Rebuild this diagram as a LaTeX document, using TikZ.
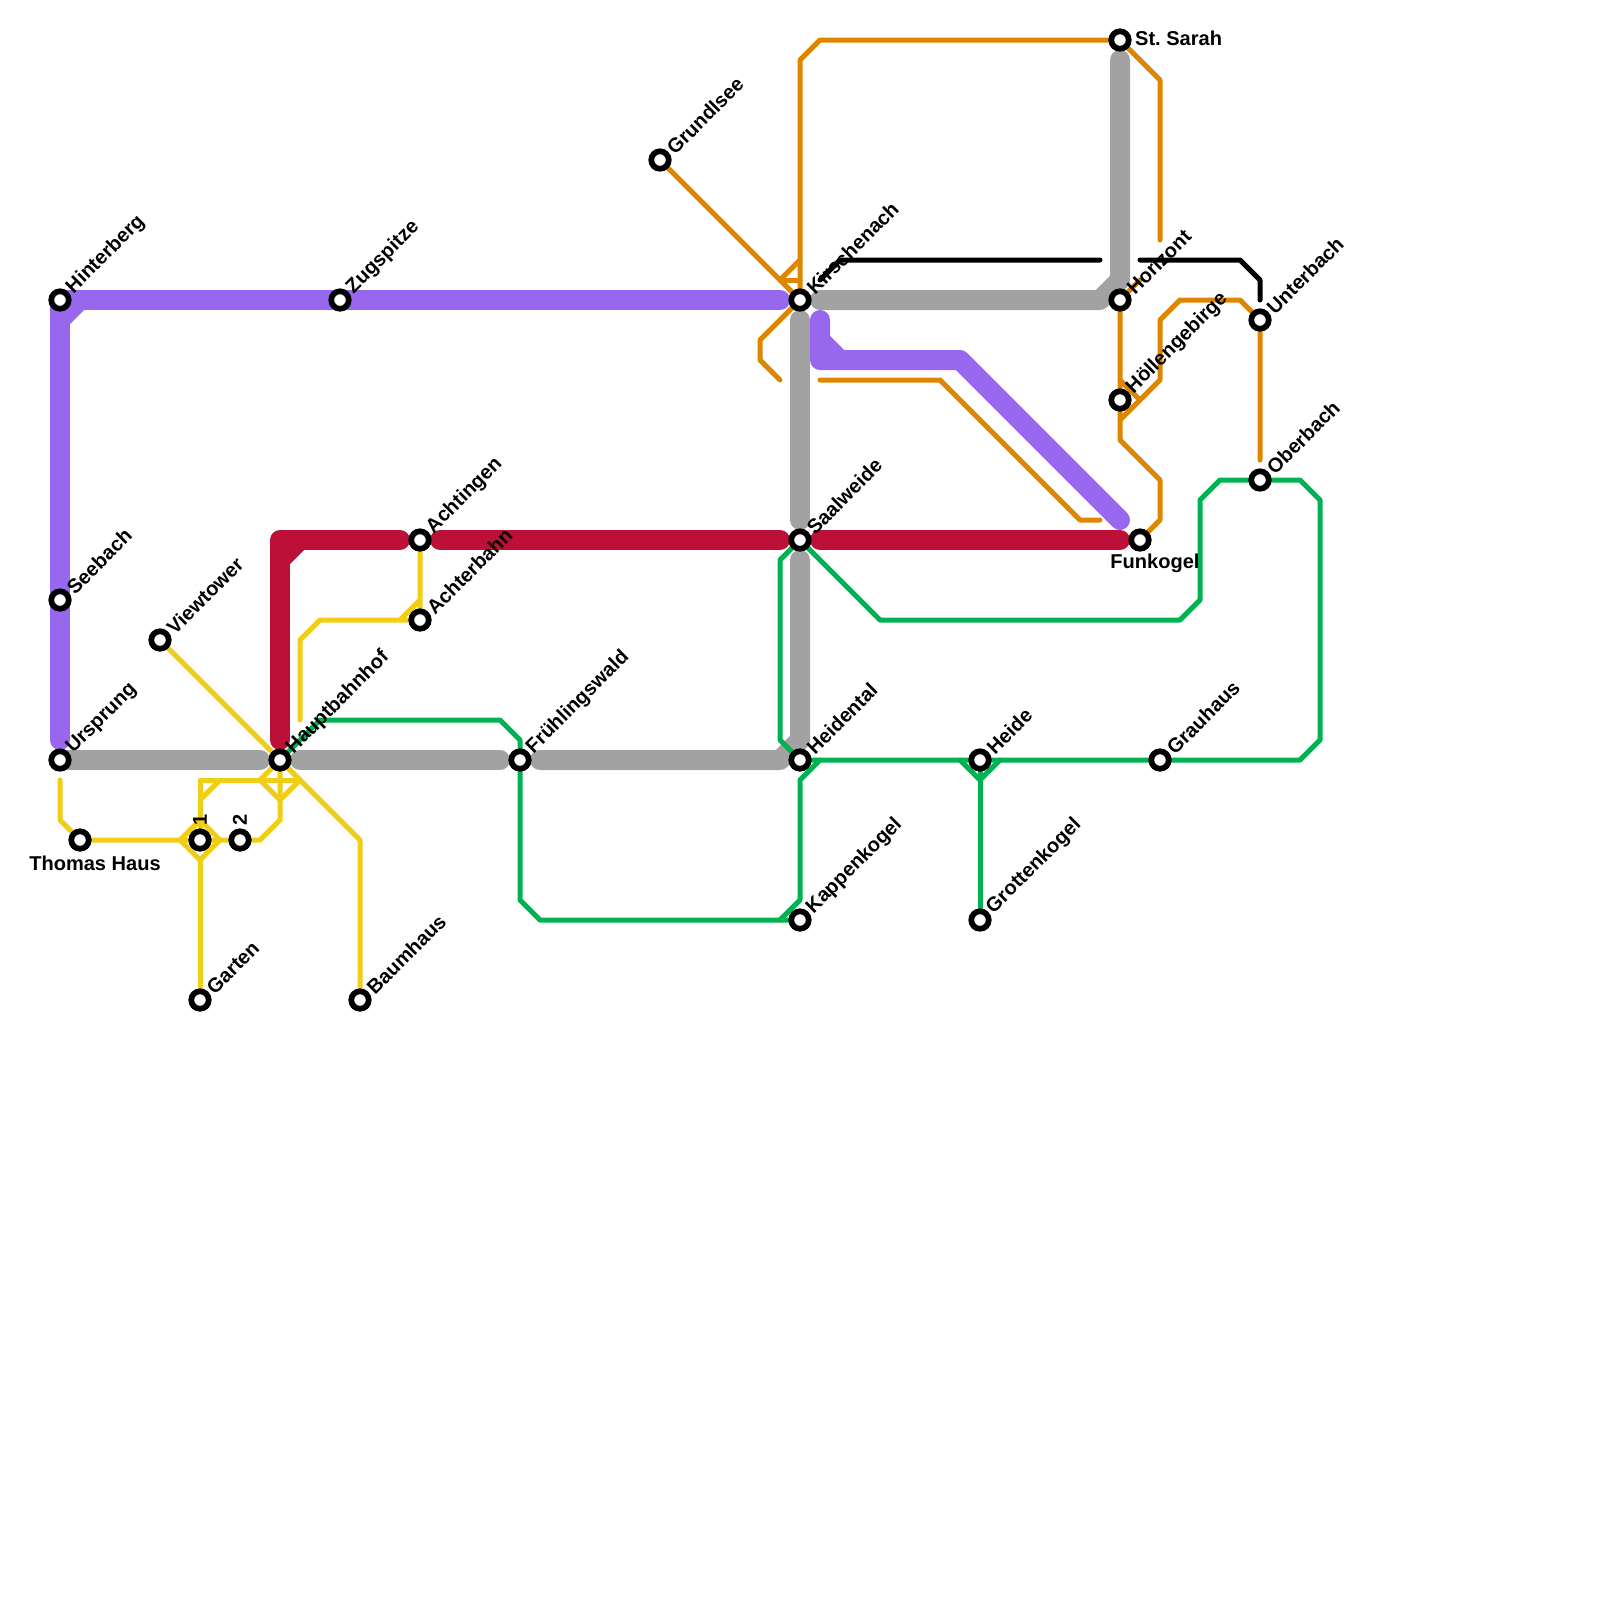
\documentclass[tikz,border=0pt]{standalone}
\usepackage{fontspec}
\setmainfont{Liberation Sans}
\usetikzlibrary{positioning}
\definecolor{linePurple}{HTML}{9768EE}
\definecolor{lineCrimson}{HTML}{BD1038}
\definecolor{lineGray}{HTML}{A2A2A2}
\definecolor{lineOrange}{HTML}{DF8600}
\definecolor{lineGreen}{HTML}{00B251}
\definecolor{lineYellow}{HTML}{F0CE15}
\pgfdeclarelayer{lines}
\pgfsetlayers{lines,main}
\begin{document}
\begin{tikzpicture}[
  x=0.2cm, y=-0.2cm,
  font=\fontsize{5.7}{6.5}\selectfont\bfseries,
  station/.style={circle, draw=black, fill=white, line width=0.57mm, minimum size=1.75mm, inner sep=0pt, outer sep=0pt},
  lblne/.style={xshift=0.95mm, yshift=0.9mm, rotate=45, anchor=west, inner sep=0pt},
  lblup/.style={yshift=1.4mm, rotate=90, anchor=west, inner sep=0pt},
  lbleast/.style={xshift=1.45mm, yshift=0.2mm, anchor=west, inner sep=0pt},
  lblbelow/.style={yshift=-2.3mm, inner sep=0pt},
  thick line/.style={line width=2mm, line cap=round, line join=round},
  thin line/.style={line width=0.5mm, line cap=round, line join=round}
]
\useasboundingbox (0,0) rectangle (80,80);

% stations
\node[station] (hinterberg) at (3,15) {};
\node[station] (seebach) at (3,30) {};
\node[station] (ursprung) at (3,38) {};
\node[station] (thomashaus) at (4,42) {};
\node[station] (viewtower) at (8,32) {};
\node[station] (one) at (10,42) {};
\node[station] (two) at (12,42) {};
\node[station] (garten) at (10,50) {};
\node[station] (hauptbahnhof) at (14,38) {};
\node[station] (baumhaus) at (18,50) {};
\node[station] (zugspitze) at (17,15) {};
\node[station] (achtingen) at (21,27) {};
\node[station] (achterbahn) at (21,31) {};
\node[station] (fruehlingswald) at (26,38) {};
\node[station] (grundlsee) at (33,8) {};
\node[station] (kirschenach) at (40,15) {};
\node[station] (saalweide) at (40,27) {};
\node[station] (heidental) at (40,38) {};
\node[station] (kappenkogel) at (40,46) {};
\node[station] (heide) at (49,38) {};
\node[station] (grottenkogel) at (49,46) {};
\node[station] (stsarah) at (56,2) {};
\node[station] (horizont) at (56,15) {};
\node[station] (hoellengebirge) at (56,20) {};
\node[station] (funkogel) at (57,27) {};
\node[station] (grauhaus) at (58,38) {};
\node[station] (unterbach) at (63,16) {};
\node[station] (oberbach) at (63,24) {};

% labels
\node[lblne] (hinterberglbl) at (hinterberg) {Hinterberg};
\node[lblne] (seebachlbl) at (seebach) {Seebach};
\node[lblne] (ursprunglbl) at (ursprung) {Ursprung};
\node[lblbelow] (thomashauslbl) at (thomashaus) [xshift=1.5mm] {Thomas Haus};
\node[lblne] (viewtowerlbl) at (viewtower) {Viewtower};
\node[lblup] (onelbl) at (one) {1};
\node[lblup] (twolbl) at (two) {2};
\node[lblne] (gartenlbl) at (garten) {Garten};
\node[lblne] (hauptbahnhoflbl) at (hauptbahnhof) {Hauptbahnhof};
\node[lblne] (baumhauslbl) at (baumhaus) {Baumhaus};
\node[lblne] (zugspitzelbl) at (zugspitze) {Zugspitze};
\node[lblne] (achtingenlbl) at (achtingen) {Achtingen};
\node[lblne] (achterbahnlbl) at (achterbahn) {Achterbahn};
\node[lblne] (fruehlingswaldlbl) at (fruehlingswald) {Frühlingswald};
\node[lblne] (grundlseelbl) at (grundlsee) {Grundlsee};
\node[lblne] (kirschenachlbl) at (kirschenach) {Kirschenach};
\node[lblne] (saalweidelbl) at (saalweide) {Saalweide};
\node[lblne] (heidentallbl) at (heidental) {Heidental};
\node[lblne] (kappenkogellbl) at (kappenkogel) {Kappenkogel};
\node[lblne] (heidelbl) at (heide) {Heide};
\node[lblne] (grottenkogellbl) at (grottenkogel) {Grottenkogel};
\node[lbleast] (stsarahlbl) at (stsarah) {St.\ Sarah};
\node[lblne] (horizontlbl) at (horizont) {Horizont};
\node[lblne] (hoellengebirgelbl) at (hoellengebirge) {Höllengebirge};
\node[lblbelow] (funkogellbl) at (funkogel) [xshift=1.5mm] {Funkogel};
\node[lblne] (grauhauslbl) at (grauhaus) {Grauhaus};
\node[lblne] (unterbachlbl) at (unterbach) {Unterbach};
\node[lblne] (oberbachlbl) at (oberbach) {Oberbach};

\begin{pgfonlayer}{lines}
% thick lines
\draw[thick line, draw=lineGray] (ursprung.center) -- (13,38);
\draw[thick line, draw=lineGray] (15,38) -- (25,38);
\draw[thick line, draw=lineGray] (27,38) -- (39,38) -- (40,37) -- (40,28);
\draw[thick line, draw=lineGray] (40,16) -- (40,26);
\draw[thick line, draw=lineGray] (41,15) -- (55,15) -- (56,14) -- (56,3);
\draw[thick line, draw=linePurple] (39,15) -- (hinterberg.center) -- (3,37);
\draw[thick line, draw=linePurple] (4,15) -- (3,16);
\draw[thick line, draw=linePurple] (41,16) -- (41,18) -- (48,18) -- (56,26);
\draw[thick line, draw=linePurple] (41,17) -- (42,18);
\draw[thick line, draw=lineCrimson] (14,37) -- (14,27) -- (20,27);
\draw[thick line, draw=lineCrimson] (14,28) -- (15,27);
\draw[thick line, draw=lineCrimson] (22,27) -- (39,27);
\draw[thick line, draw=lineCrimson] (41,27) -- (56,27);

% orange
\draw[thin line, draw=lineOrange] (grundlsee.center) -- (kirschenach.center) -- (40,3) -- (41,2) -- (stsarah.center) -- (58,4) -- (58,12);
\draw[thin line, draw=lineOrange] (39,14) -- (40,13);
\draw[thin line, draw=lineOrange] (39,14) -- (40,14);
\draw[thin line, draw=lineOrange] (kirschenach.center) -- (38,17) -- (38,18) -- (39,19);
\draw[thin line, draw=lineOrange] (41,19) -- (47,19) -- (54,26) -- (55,26);
\draw[thin line, draw=lineOrange] (57,14) -- (horizont.center) -- (56,22) -- (58,24) -- (58,26) -- (funkogel.center);
\draw[thin line, draw=lineOrange] (56,19) -- (57,20);
\draw[thin line, draw=lineOrange] (56,21) -- (58,19) -- (58,16) -- (59,15) -- (62,15) -- (unterbach.center) -- (63,23);

% black
\draw[thin line, draw=black] (41,14) -- (42,13) -- (55,13);
\draw[thin line, draw=black] (57,13) -- (62,13) -- (63,14) -- (63,15);

% green
\draw[thin line, draw=lineGreen] (hauptbahnhof.center) -- (16,36) -- (25,36) -- (26,37) -- (fruehlingswald.center) -- (26,45) -- (27,46) -- (39,46) -- (kappenkogel.center);
\draw[thin line, draw=lineGreen] (39,46) -- (40,45) -- (40,39) -- (41,38);
\draw[thin line, draw=lineGreen] (heidental.center) -- (grauhaus.center) -- (65,38) -- (66,37) -- (66,25) -- (65,24) -- (oberbach.center) -- (61,24) -- (60,25) -- (60,30) -- (59,31) -- (44,31) -- (saalweide.center) -- (39,28) -- (39,37) -- (heidental.center);
\draw[thin line, draw=lineGreen] (48,38) -- (49,39) -- (50,38);
\draw[thin line, draw=lineGreen] (heide.center) -- (grottenkogel.center);

% yellow
\draw[thin line, draw=lineYellow] (3,39) -- (3,41) -- (thomashaus.center) -- (two.center) -- (13,42) -- (14,41) -- (hauptbahnhof.center);
\draw[thin line, draw=lineYellow] (9,42) -- (10,41) -- (11,42) -- (10,43) -- cycle;
\draw[thin line, draw=lineYellow] (one.center) -- (10,39) -- (15,39);
\draw[thin line, draw=lineYellow] (10,40) -- (11,39);
\draw[thin line, draw=lineYellow] (hauptbahnhof.center) -- (13,39) -- (14,40) -- (15,39) -- (hauptbahnhof.center);
\draw[thin line, draw=lineYellow] (viewtower.center) -- (hauptbahnhof.center) -- (18,42) -- (baumhaus.center);
\draw[thin line, draw=lineYellow] (10,43) -- (garten.center);
\draw[thin line, draw=lineYellow] (achtingen.center) -- (achterbahn.center) -- (16,31) -- (15,32) -- (15,36);
\draw[thin line, draw=lineYellow] (21,30) -- (20,31);
\end{pgfonlayer}
\end{tikzpicture}
\end{document}
